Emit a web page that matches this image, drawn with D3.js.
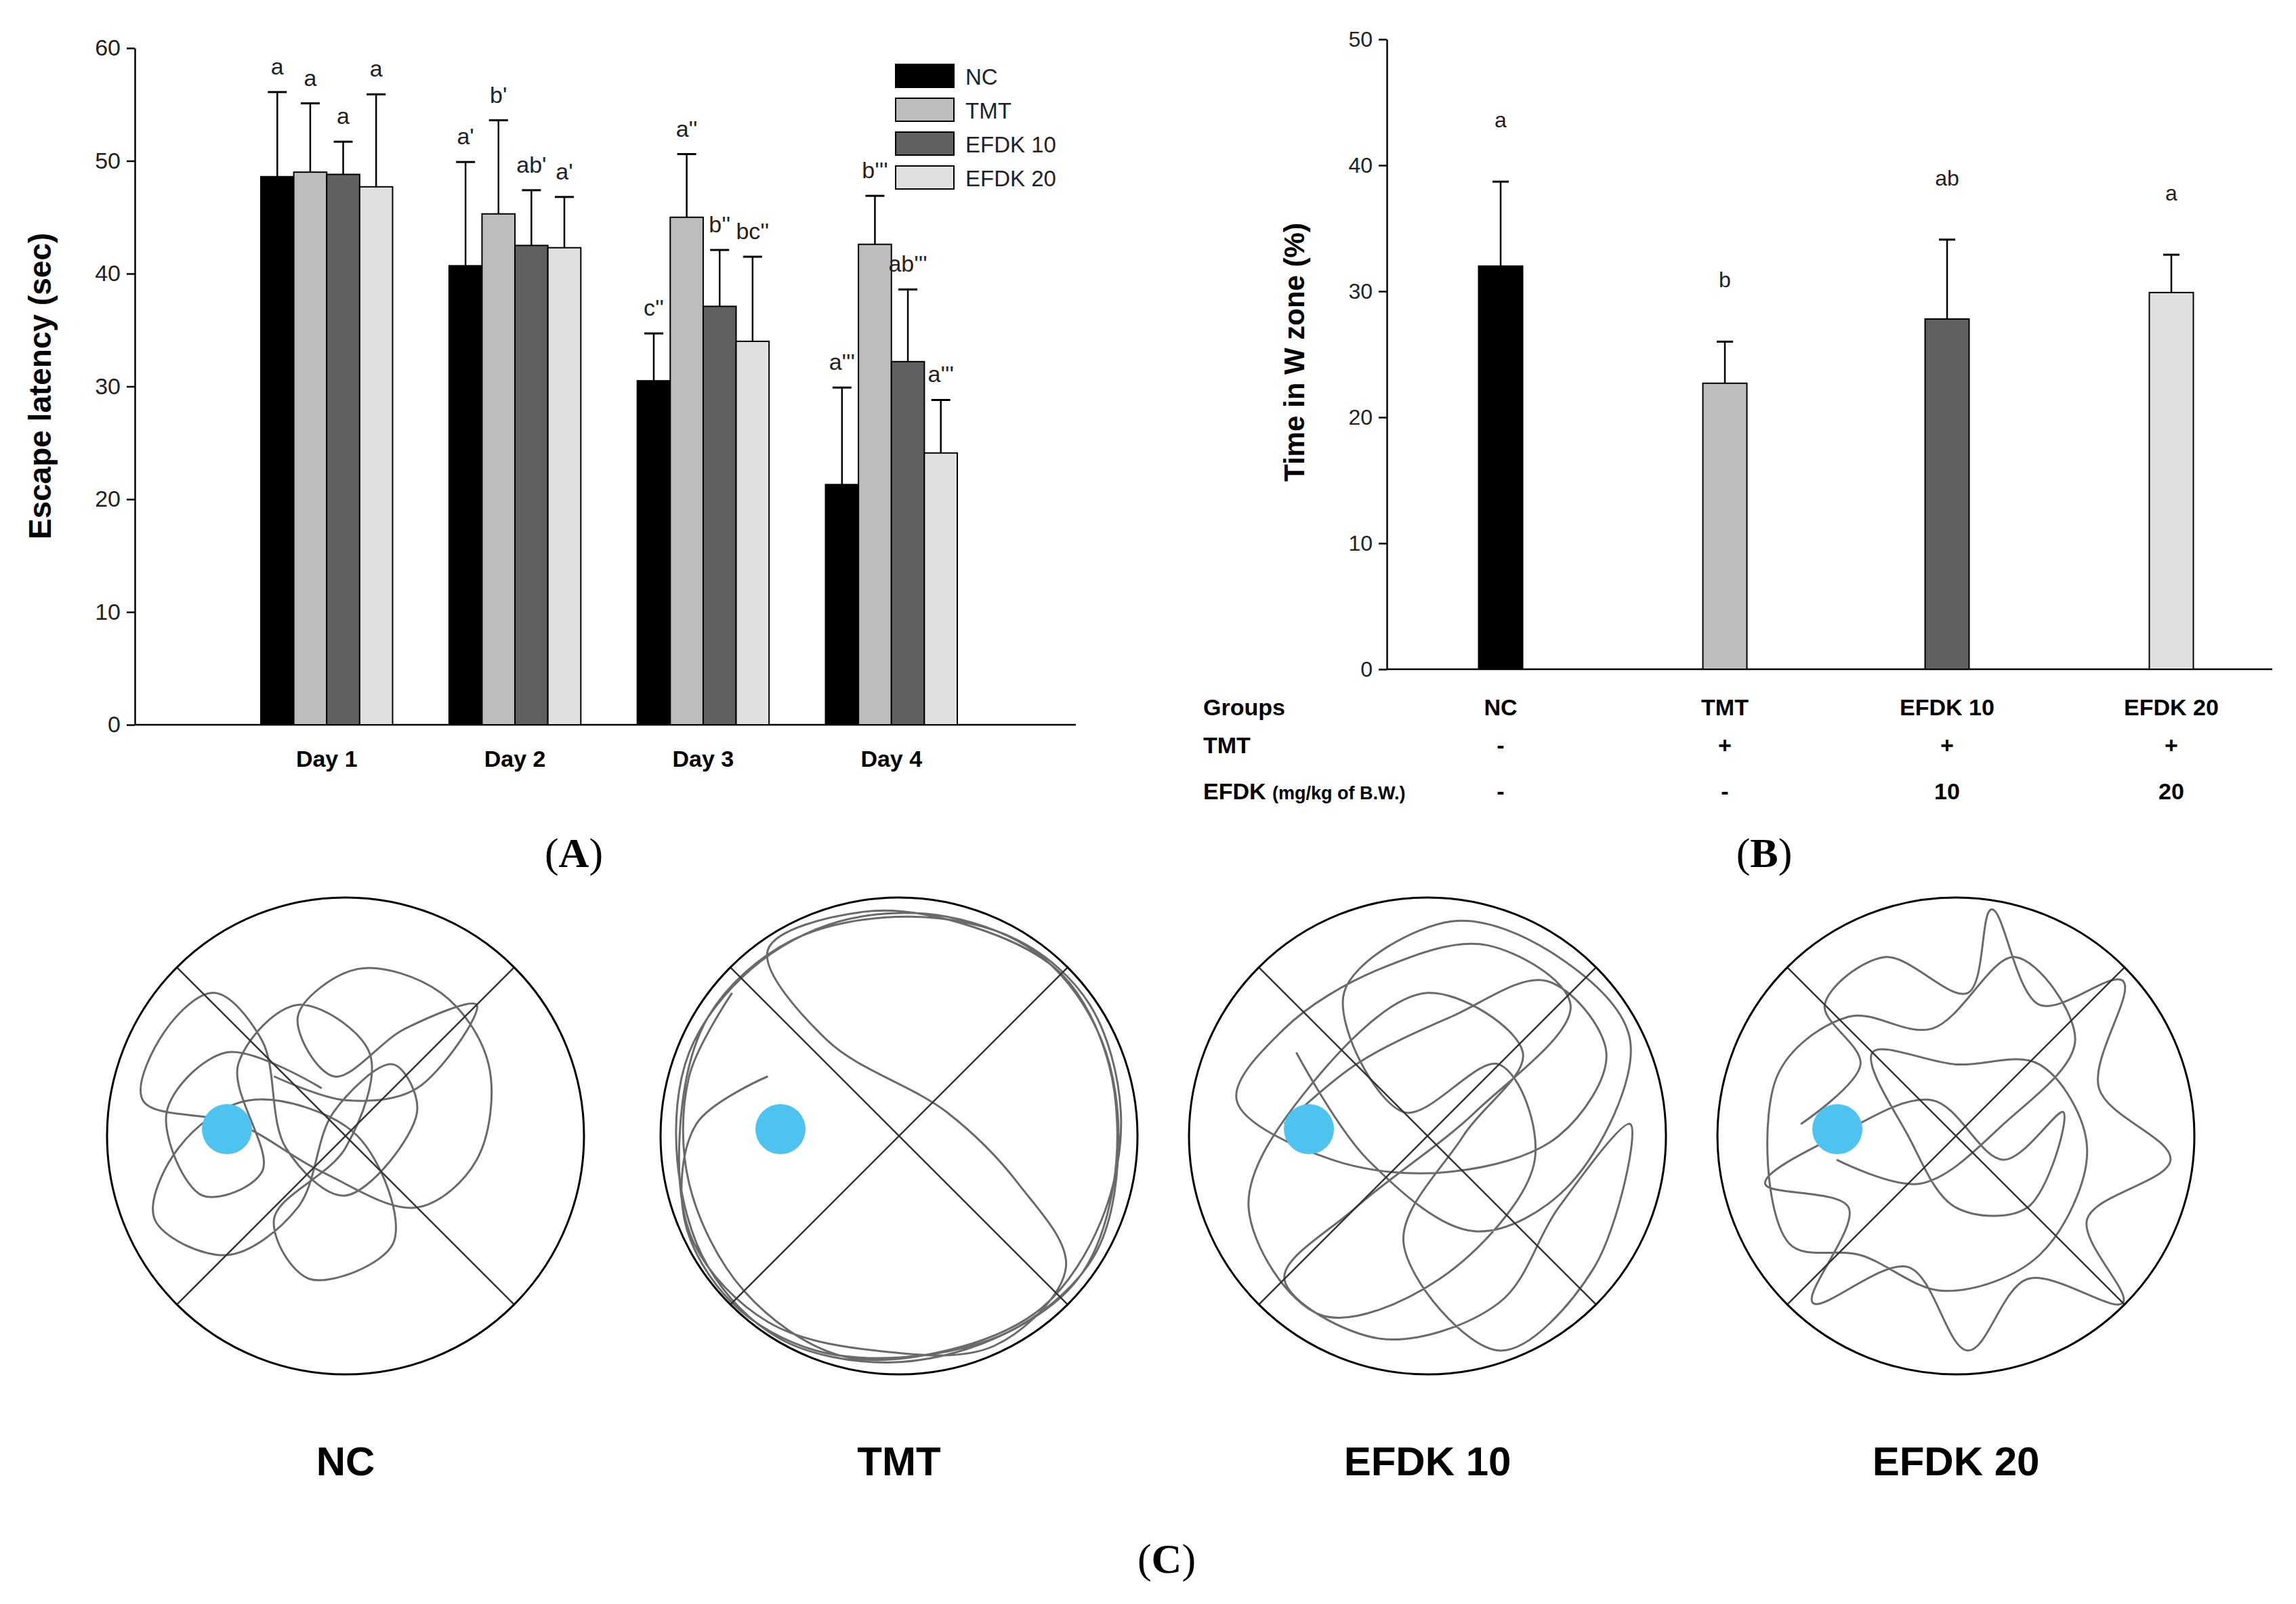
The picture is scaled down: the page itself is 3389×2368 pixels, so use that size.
<!DOCTYPE html>
<html><head><meta charset="utf-8">
<script src="https://cdn.jsdelivr.net/npm/d3@7"></script>
<style>body{margin:0;background:#fff}text{font-family:Arial,"Liberation Sans",sans-serif}</style>
</head><body>
<script>
const W = 3389, H = 2368;

// panel A data
const days = ["Day 1", "Day 2", "Day 3", "Day 4"];
const groups = ["NC", "TMT", "EFDK 10", "EFDK 20"];
const colors = ["#000000", "#bdbdbd", "#606060", "#e0e0e0"];
const latMean = [[48.6, 49.0, 48.8, 47.7], [40.7, 45.3, 42.5, 42.3], [30.5, 45.0, 37.1, 34.0], [21.3, 42.6, 32.2, 24.1]];
const latTop = [[56.1, 55.1, 51.7, 55.9], [49.9, 53.6, 47.4, 46.8], [34.7, 50.6, 42.1, 41.5], [29.9, 46.9, 38.6, 28.8]];
const latLetters = [["a", "a", "a", "a"], ["a'", "b'", "ab'", "a'"], ["c''", "a''", "b''", "bc''"], ["a'''", "b'''", "ab'''", "a'''"]];

// panel B data
const wMean = [32.0, 22.7, 27.8, 29.9];
const wTop = [38.7, 26.0, 34.1, 32.9];
const wLetters = ["a", "b", "ab", "a"];
const tmtRow = ["-", "+", "+", "+"];
const efdkRow = ["-", "-", "10", "20"];

// panel C trajectories (unit-circle coords)
const trackNC = [[-0.1,0.2],[-0.5,0.35],[-0.75,0.1],[-0.6,-0.25],[-0.35,-0.15],[-0.45,0.3],[-0.2,0.55],[0.1,0.35],[0.0,-0.05],[-0.3,-0.35],[-0.15,-0.6],[0.2,-0.45],[0.05,0.0],[-0.4,0.15],[-0.7,-0.05],[-0.8,-0.35],[-0.5,-0.5],[-0.2,-0.3],[-0.05,0.1],[0.2,0.3],[0.3,0.1],[0.0,-0.25],[-0.25,-0.05],[-0.35,0.4],[-0.55,0.6],[-0.75,0.45],[-0.85,0.15],[-0.45,0.05],[-0.1,-0.15],[0.3,-0.3],[0.55,-0.1],[0.6,0.3],[0.4,0.6],[0.05,0.7],[-0.2,0.5],[-0.05,0.25],[0.25,0.45],[0.55,0.55],[0.3,0.2],[0.0,0.15],[-0.3,0.25]];
const trackTMT = [[-0.55,0.25],[-0.85,0.05],[-0.9,-0.35],[-0.7,-0.7],[-0.35,-0.9],[0.1,-0.92],[0.5,-0.8],[0.82,-0.5],[0.92,-0.05],[0.85,0.4],[0.6,0.75],[0.2,0.92],[-0.25,0.9],[-0.62,0.7],[-0.88,0.35],[-0.93,-0.1],[-0.8,-0.55],[-0.5,-0.85],[-0.05,-0.95],[0.4,-0.85],[0.75,-0.6],[0.9,-0.2],[0.88,0.3],[0.68,0.68],[0.3,0.88],[-0.15,0.94],[-0.55,0.78],[-0.3,0.4],[0.2,0.1],[0.5,-0.2],[0.7,-0.55],[0.4,-0.88],[-0.1,-0.9],[-0.55,-0.78],[-0.86,-0.45],[-0.92,0.0],[-0.8,0.5],[-0.45,0.82],[0.05,0.92],[0.5,0.82],[0.8,0.55],[0.93,0.1],[0.85,-0.35],[0.6,-0.72],[0.2,-0.9],[-0.25,-0.92],[-0.65,-0.65],[-0.88,-0.2],[-0.88,0.25],[-0.7,0.6]];
const trackE10 = [[-0.6,0.05],[-0.3,0.3],[0.1,0.5],[0.5,0.65],[0.75,0.35],[0.55,0.0],[0.1,-0.15],[-0.4,-0.1],[-0.8,0.15],[-0.6,0.45],[-0.2,0.7],[0.25,0.8],[0.6,0.55],[0.2,0.1],[-0.3,-0.3],[-0.6,-0.6],[-0.2,-0.85],[0.3,-0.7],[0.55,-0.3],[0.85,0.05],[0.7,-0.55],[0.3,-0.9],[-0.1,-0.45],[0.15,0.0],[0.4,0.35],[0.0,0.6],[-0.5,0.2],[-0.75,-0.3],[-0.45,-0.75],[0.05,-0.6],[0.45,-0.1],[0.3,0.3],[-0.1,0.1],[-0.35,0.6],[0.1,0.9],[0.55,0.75],[0.85,0.4],[0.6,-0.2],[0.2,-0.4],[-0.25,-0.1],[-0.55,0.35]];
const trackE20 = [[-0.65,0.05],[-0.4,0.3],[-0.55,0.55],[-0.3,0.75],[0.05,0.6],[0.15,0.95],[0.35,0.55],[0.7,0.65],[0.6,0.2],[0.9,-0.1],[0.55,-0.35],[0.7,-0.7],[0.3,-0.6],[0.05,-0.9],[-0.2,-0.55],[-0.6,-0.7],[-0.45,-0.3],[-0.8,-0.2],[-0.5,0.0],[-0.1,0.15],[0.2,-0.1],[0.45,0.1],[0.3,-0.3],[0.0,-0.3],[-0.2,0.0],[-0.35,0.35],[0.0,0.3],[0.35,0.3],[0.55,-0.05],[0.35,-0.5],[-0.05,-0.65],[-0.4,-0.5],[-0.7,-0.45],[-0.75,0.25],[-0.45,0.5],[-0.1,0.45],[0.25,0.75],[0.5,0.4],[0.2,0.05],[-0.15,-0.2],[-0.5,-0.1]];
const tracks = [trackNC, trackTMT, trackE10, trackE20];

const svg = d3.select("body").append("svg").attr("width", W).attr("height", H);

// ---------- panel A ----------
const yA = d3.scaleLinear().domain([0, 60]).range([1070, 71]);
const xA = d3.scaleBand().domain(days).range([385, 1413]).paddingInner(0.3).paddingOuter(0);
const xSub = d3.scaleBand().domain(groups).range([0, xA.bandwidth()]);
const gA = svg.append("g");
gA.append("g").attr("transform", "translate(199,0)")
  .call(d3.axisLeft(yA).tickValues(d3.range(0, 61, 10)).tickSize(12).tickSizeOuter(0))
  .call(g => g.selectAll("text").attr("font-size", 34).attr("fill", "#222").attr("dx", -6))
  .call(g => g.selectAll("path,line").attr("stroke-width", 2.5));
gA.append("line").attr("x1", 199).attr("x2", 1588).attr("y1", yA(0)).attr("y2", yA(0)).attr("stroke", "#000").attr("stroke-width", 2.5);
days.forEach((d, i) => {
  const g = gA.append("g");
  groups.forEach((s, j) => {
    const x = xA(d) + xSub(s), w = xSub.bandwidth(), cx = x + w / 2;
    g.append("rect").attr("x", x).attr("width", w).attr("y", yA(latMean[i][j])).attr("height", yA(0) - yA(latMean[i][j]))
      .attr("fill", colors[j]).attr("stroke", "#000").attr("stroke-width", 2);
    g.append("line").attr("x1", cx).attr("x2", cx).attr("y1", yA(latMean[i][j])).attr("y2", yA(latTop[i][j])).attr("stroke", "#000").attr("stroke-width", 2.5);
    g.append("line").attr("x1", cx - 14).attr("x2", cx + 14).attr("y1", yA(latTop[i][j])).attr("y2", yA(latTop[i][j])).attr("stroke", "#000").attr("stroke-width", 3);
    g.append("text").attr("x", cx).attr("y", yA(latTop[i][j]) - 26).attr("text-anchor", "middle").attr("font-size", 34).attr("fill", "#222").text(latLetters[i][j]);
  });
  gA.append("text").attr("x", xA(d) + xA.bandwidth() / 2).attr("y", 1132).attr("text-anchor", "middle").attr("font-size", 34).attr("font-weight", "bold").text(d);
});
gA.append("text").attr("transform", "translate(75,570) rotate(-90)").attr("text-anchor", "middle").attr("font-size", 46).attr("font-weight", "bold").text("Escape latency (sec)");
groups.forEach((s, j) => {
  const y = 95 + j * 50;
  gA.append("rect").attr("x", 1322).attr("y", y).attr("width", 86).attr("height", 34).attr("fill", colors[j]).attr("stroke", "#000").attr("stroke-width", 2);
  gA.append("text").attr("x", 1425).attr("y", y + 30).attr("font-size", 33).attr("fill", "#222").text(s);
});

// ---------- panel B ----------
const yB = d3.scaleLinear().domain([0, 50]).range([988, 58]);
const centersB = [2215, 2546, 2874, 3205];
const gB = svg.append("g");
gB.append("g").attr("transform", "translate(2047,0)")
  .call(d3.axisLeft(yB).tickValues(d3.range(0, 51, 10)).tickSize(12).tickSizeOuter(0))
  .call(g => g.selectAll("text").attr("font-size", 32).attr("fill", "#222").attr("dx", -6))
  .call(g => g.selectAll("path,line").attr("stroke-width", 2.5));
gB.append("line").attr("x1", 2047).attr("x2", 3354).attr("y1", yB(0)).attr("y2", yB(0)).attr("stroke", "#000").attr("stroke-width", 2.5);
groups.forEach((s, j) => {
  const cx = centersB[j], w = 65;
  gB.append("rect").attr("x", cx - w / 2).attr("width", w).attr("y", yB(wMean[j])).attr("height", yB(0) - yB(wMean[j]))
    .attr("fill", colors[j]).attr("stroke", "#000").attr("stroke-width", 2);
  gB.append("line").attr("x1", cx).attr("x2", cx).attr("y1", yB(wMean[j])).attr("y2", yB(wTop[j])).attr("stroke", "#000").attr("stroke-width", 2.5);
  gB.append("line").attr("x1", cx - 12).attr("x2", cx + 12).attr("y1", yB(wTop[j])).attr("y2", yB(wTop[j])).attr("stroke", "#000").attr("stroke-width", 3);
  gB.append("text").attr("x", cx).attr("y", yB(wTop[j]) - 80).attr("text-anchor", "middle").attr("font-size", 32).attr("fill", "#222").text(wLetters[j]);
  gB.append("text").attr("x", cx).attr("y", 1056).attr("text-anchor", "middle").attr("font-size", 34).attr("font-weight", "bold").text(s);
  gB.append("text").attr("x", cx).attr("y", 1112).attr("text-anchor", "middle").attr("font-size", 34).attr("font-weight", "bold").text(tmtRow[j]);
  gB.append("text").attr("x", cx).attr("y", 1180).attr("text-anchor", "middle").attr("font-size", 34).attr("font-weight", "bold").text(efdkRow[j]);
});
gB.append("text").attr("x", 1776).attr("y", 1056).attr("font-size", 34).attr("font-weight", "bold").text("Groups");
gB.append("text").attr("x", 1776).attr("y", 1112).attr("font-size", 34).attr("font-weight", "bold").text("TMT");
const ef = gB.append("text").attr("x", 1776).attr("y", 1180).attr("font-size", 34).attr("font-weight", "bold");
ef.append("tspan").text("EFDK ");
ef.append("tspan").attr("font-size", 27).text("(mg/kg of B.W.)");
gB.append("text").attr("transform", "translate(1925,520) rotate(-90)").attr("text-anchor", "middle").attr("font-size", 42).attr("font-weight", "bold").text("Time in W zone (%)");

// panel labels
[["A", 847, 1280], ["B", 2604, 1280], ["C", 1722, 2322]].forEach(([l, x, y]) => {
  const t = svg.append("text").attr("x", x).attr("y", y).attr("text-anchor", "middle").attr("font-size", 62)
    .style("font-family", "'Liberation Serif','DejaVu Serif',serif");
  t.append("tspan").text("(");
  t.append("tspan").attr("font-weight", "bold").text(l);
  t.append("tspan").text(")");
});

// ---------- panel C ----------
const cxC = [510, 1327, 2107, 2887], cyC = 1677, rC = 352;
const line = d3.line().curve(d3.curveCatmullRom.alpha(0.5));
groups.forEach((s, j) => {
  const g = svg.append("g").attr("transform", `translate(${cxC[j]},${cyC})`);
  const sc = d3.scaleLinear().domain([-1, 1]).range([-rC, rC]);
  g.append("path").attr("d", line(tracks[j].map(p => [sc(p[0]), -sc(p[1])])))
    .attr("fill", "none").attr("stroke", "#6a6a6a").attr("stroke-width", 3);
  const a = rC * Math.SQRT1_2;
  g.append("line").attr("x1", -a).attr("y1", -a).attr("x2", a).attr("y2", a).attr("stroke", "#333").attr("stroke-width", 2.5);
  g.append("line").attr("x1", a).attr("y1", -a).attr("x2", -a).attr("y2", a).attr("stroke", "#333").attr("stroke-width", 2.5);
  g.append("circle").attr("r", rC).attr("fill", "none").attr("stroke", "#000").attr("stroke-width", 3);
  g.append("circle").attr("cx", -175).attr("cy", -10).attr("r", 37).attr("fill", "#4fc3ef");
  svg.append("text").attr("x", cxC[j]).attr("y", 2178).attr("text-anchor", "middle").attr("font-size", 60).attr("font-weight", "bold").text(s);
});
</script>
</body></html>
